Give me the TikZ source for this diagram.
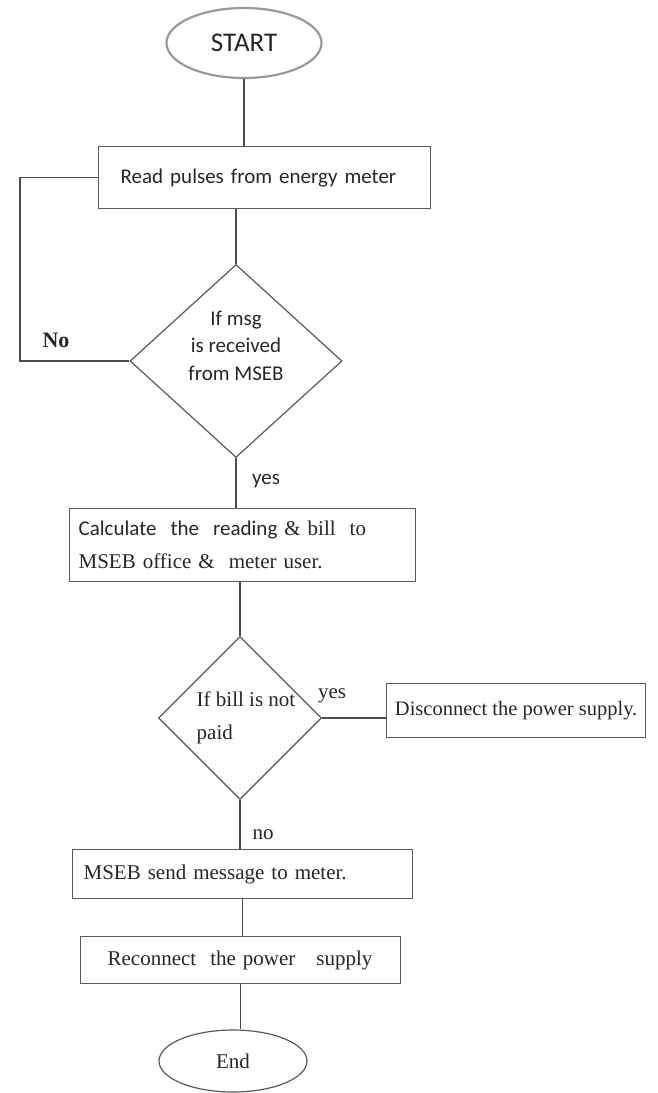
\documentclass[tikz,border=0pt]{standalone}
\usepackage{fontspec}
\setmainfont{Liberation Serif}
\newfontfamily\calib{Carlito}
\usetikzlibrary{shapes.geometric}

\newcommand\srf{\fontsize{21}{33}\selectfont}
\newcommand\sns{\calib\fontsize{21}{27.5}\selectfont}

\tikzset{
  box/.style={draw=black!65, line width=1.3pt, rectangle, anchor=north west,
    inner ysep=0pt, align=left, text=black!85},
  decide/.style={draw=black!65, line width=1.2pt, diamond, inner sep=0pt},
  link/.style={draw=black!70, line width=1.2pt},
  tag/.style={inner sep=0pt, text=black!85}
}

\begin{document}
\begin{tikzpicture}[x=1pt,y=-1pt]
        \useasboundingbox (0,0) rectangle (657,1093);
        \path
        (244,43) coordinate (S)
        (236,361) coordinate (Q1)
        (240,718) coordinate (Q2)
        (233,1061) coordinate (E)
        (20,0) coordinate (loopx)
        ;
        \node[draw=black!40, line width=2.2pt, ellipse, inner sep=0pt, minimum width=155, minimum height=70,
          font=\calib\fontsize{27}{30}\selectfont, text=black!85] (start) at (S) {START};
        \node[box, minimum width=332, minimum height=62, inner xsep=22pt, text width=288pt, font=\sns]
          (read) at (98,146) {Read pulses from energy meter};
        \node[decide, minimum width=212, minimum height=193,
          label={[name=asktxt, align=center, font=\sns, text=black!85, yshift=15.5pt]center:If msg\\is received\\from MSEB}]
          (ask) at (Q1) {};
        \node[box, minimum width=346, minimum height=73, inner xsep=9pt, text width=328pt, font=\srf]
          (calc) at (69,508) {{\calib Calculate~ the~ reading} \& bill~ to\\MSEB office \&~ meter user.};
        \node[decide, minimum width=155, minimum height=158, align=left, font=\srf, text=black!85]
          (bill) at (Q2) {\hspace*{12pt}If bill is not\\\hspace*{12pt}paid};
        \node[box, minimum width=259, minimum height=54, inner xsep=3pt, align=center,
          font=\fontsize{20.5}{24}\selectfont]
          (disc) at (386,683) {Disconnect the power supply.};
        \node[box, minimum width=340, minimum height=49, inner xsep=11pt, text width=318pt, font=\srf]
          (msg) at (72,849) {MSEB send message to meter.};
        \node[box, minimum width=320, minimum height=47, inner xsep=27pt, text width=266pt, font=\srf]
          (recon) at (80,936) {Reconnect~ the power~~ supply};
        \node[draw=black!65, line width=1.2pt, ellipse, inner sep=0pt, minimum width=148, minimum height=62,
          font=\srf, text=black!85] (stop) at (E) {End};
        % labels on the branches
        \node[tag, font=\bfseries\fontsize{22}{24}\selectfont] (nolbl) at (56,340) {No};
        \node[tag, font=\sns] (yes1) at (266,481) {yes};
        \node[tag, font=\srf] (yes2) at (332,696) {yes};
        \node[tag, font=\srf] (no2) at (263,835) {no};
        % connectors
        \foreach \u/\v in {start/read,ask/calc,bill/msg,msg/recon,recon/stop}
          \draw[link] (\u.south) -- (\u.south |- \v.north);
        \draw[link] (read.south -| ask) -- (ask.north);
        \draw[link] (calc.south -| bill) -- (bill.north);
        \draw[link] (bill.east) -- (bill.east -| disc.west);
        \draw[link] (ask.west) -- (ask.west -| loopx) |- (read.west);
    \end{tikzpicture}
\end{document}
